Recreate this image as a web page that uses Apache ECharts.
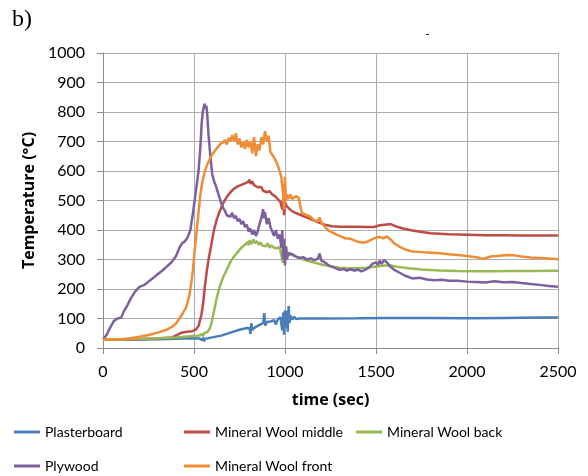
<!DOCTYPE html>
<html>
<head>
<meta charset="utf-8">
<script src="https://cdn.jsdelivr.net/npm/echarts@6/dist/echarts.min.js"></script>
<style>
  html, body { margin: 0; padding: 0; background: #fff; }
  #chart { width: 588px; height: 476px; }
</style>
</head>
<body>
<div id="chart"></div>
<script>
// Temperature histories [time (s), temperature (°C)] per measuring position
const seriesNames = ['Plasterboard', 'Mineral Wool middle', 'Mineral Wool back', 'Plywood', 'Mineral Wool front'];
const seriesColors = ['#4A7EBB', '#BE4B48', '#98B954', '#7D60A0', '#F08C36'];

const plasterboard = [[0,29],[100,29],[200,29],[300,30],[400,31],[480,33],[530,32],[545,27],[550,35],[555,23],[560,31],[600,36],[650,42],[700,52],[750,62],[790,68],[805,67],[810,48],[815,84],[820,62],[840,72],[860,78],[880,84],[886,118],[892,76],[900,88],[920,90],[940,94],[950,80],[960,97],[975,104],[985,60],[990,120],[995,45],[1000,128],[1005,70],[1010,125],[1015,55],[1020,142],[1025,85],[1030,110],[1040,96],[1050,106],[1060,98],[1080,100],[1200,100],[1400,101],[1560,102],[1565,108],[1570,101],[1800,102],[2000,101],[2200,102],[2400,103],[2500,103]];

const mineralWoolMiddle = [[0,29],[100,29],[200,30],[300,32],[380,36],[410,45],[430,52],[460,55],[490,57],[510,62],[525,75],[540,110],[550,150],[560,210],[570,260],[580,300],[595,350],[610,400],[625,435],[640,462],[660,490],[680,512],[700,528],[720,540],[740,548],[760,553],[780,558],[795,562],[805,570],[812,556],[820,565],[830,552],[840,548],[850,545],[860,540],[870,546],[880,533],[890,538],[900,528],[915,532],[930,520],[945,515],[960,505],[975,495],[985,470],[990,505],[995,450],[1000,495],[1010,480],[1030,468],[1050,460],[1070,455],[1090,450],[1110,445],[1130,440],[1160,432],[1190,424],[1220,418],[1260,413],[1300,411],[1350,411],[1400,411],[1450,410],[1490,410],[1520,416],[1550,418],[1580,420],[1610,412],[1650,405],[1700,398],[1750,393],[1800,389],[1900,386],[2000,384],[2100,382],[2200,382],[2300,381],[2500,381]];

const mineralWoolBack = [[0,29],[100,29],[200,31],[300,33],[400,36],[480,40],[530,42],[545,48],[550,40],[555,50],[565,46],[575,55],[585,65],[595,82],[605,110],[615,140],[625,170],[640,205],[660,240],[680,265],[700,292],[720,310],[740,325],[760,340],[780,350],[795,360],[800,348],[805,365],[815,352],[825,368],[835,355],[845,363],[855,350],[865,358],[875,347],[885,352],[895,345],[905,355],[915,340],[925,348],[940,340],[955,338],[970,343],[980,340],[985,300],[988,288],[992,340],[1000,330],[1005,345],[1012,318],[1020,322],[1040,315],[1060,310],[1080,305],[1100,300],[1130,295],[1160,290],[1200,283],[1250,277],[1300,272],[1350,270],[1400,270],[1450,272],[1500,276],[1550,280],[1580,280],[1620,275],[1680,270],[1750,266],[1850,263],[1950,261],[2050,260],[2150,260],[2250,261],[2350,261],[2500,262]];

const plywood = [[0,29],[20,45],[40,70],[60,92],[80,100],[100,103],[115,125],[130,140],[150,165],[175,190],[200,207],[225,213],[250,225],[275,237],[300,250],[325,262],[350,276],[375,290],[400,310],[420,340],[435,355],[450,362],[465,375],[480,400],[495,460],[510,530],[525,600],[535,680],[542,760],[548,800],[553,815],[558,828],[563,812],[568,822],[573,790],[580,720],[590,650],[600,590],[610,565],[620,550],[630,530],[640,510],[650,490],[660,475],[670,465],[680,450],[690,455],[700,445],[710,458],[720,440],[730,448],[740,430],[750,438],[760,420],[770,430],[780,410],[790,418],[800,395],[810,405],[820,385],[830,400],[840,380],[850,395],[860,420],[870,440],[880,470],[885,440],[890,460],[900,420],[910,440],[920,410],[930,405],[940,380],[950,400],[960,370],[970,385],[980,340],[985,400],[990,300],[995,370],[1000,280],[1005,345],[1010,300],[1020,322],[1040,318],[1060,310],[1080,305],[1100,308],[1120,300],[1140,304],[1160,298],[1180,302],[1190,320],[1200,296],[1220,290],[1240,280],[1260,275],[1280,270],[1300,265],[1320,268],[1340,262],[1360,267],[1380,262],[1400,266],[1420,260],[1440,265],[1460,272],[1480,285],[1500,290],[1510,282],[1520,296],[1530,285],[1545,298],[1560,290],[1580,275],[1600,265],[1630,255],[1660,245],[1700,236],[1740,238],[1780,232],[1820,230],[1860,231],[1900,228],[1950,228],[2000,225],[2050,224],[2100,222],[2150,226],[2200,223],[2250,224],[2300,220],[2350,217],[2400,214],[2450,210],[2500,208]];

const mineralWoolFront = [[0,29],[50,29],[100,30],[150,33],[200,38],[250,44],[300,52],[350,62],[380,72],[400,82],[420,100],[440,120],[455,135],[465,155],[475,180],[485,220],[495,270],[505,340],[515,400],[525,460],[535,520],[545,560],[560,600],[575,625],[590,645],[610,665],[630,680],[645,692],[660,697],[670,705],[680,690],[690,712],[700,700],[710,722],[720,700],[730,728],[740,690],[750,710],[760,680],[770,700],[780,675],[790,705],[800,680],[810,700],[820,660],[830,715],[840,650],[850,690],[860,670],[870,715],[880,690],[890,735],[900,700],[910,720],[920,665],[930,660],[945,640],[960,620],[970,600],[980,580],[990,520],[995,470],[1000,580],[1005,500],[1010,520],[1020,505],[1030,520],[1040,505],[1060,515],[1075,510],[1085,480],[1092,458],[1100,455],[1120,450],[1140,445],[1160,432],[1180,430],[1190,442],[1200,425],[1220,410],[1240,398],[1260,392],[1280,385],[1300,380],[1330,372],[1360,370],[1400,360],[1430,357],[1460,362],[1490,372],[1520,377],[1540,372],[1560,378],[1580,368],[1600,355],[1630,343],[1660,334],[1700,327],[1750,325],[1800,323],[1850,321],[1900,318],[1950,315],[2000,312],[2050,308],[2090,302],[2130,310],[2180,313],[2220,315],[2260,314],[2300,310],[2350,307],[2400,305],[2450,303],[2500,301]];

const seriesData = [plasterboard, mineralWoolMiddle, mineralWoolBack, plywood, mineralWoolFront];

// legend slot (left, top) for each series, two rows of up to three entries
const legendSlots = [[14, 425], [184, 425], [356, 425], [14, 459], [184, 459]];

const chart = echarts.init(document.getElementById('chart'), null, { renderer: 'canvas' });

const baseFont = 'Lato, "Open Sans", sans-serif';
const titleFont = '"Open Sans", Lato, sans-serif';

chart.setOption({
  animation: false,
  backgroundColor: '#fff',
  color: seriesColors,
  graphic: [
    {
      type: 'text', left: 12, top: 8,
      style: { text: 'b)', font: '24px "Liberation Serif", serif', fill: '#000' }
    },
    {
      type: 'rect', left: 426, top: 34,
      shape: { width: 3, height: 1 },
      style: { fill: '#222' }
    }
  ],
  grid: { left: 103, right: 30, top: 53, bottom: 128, containLabel: false },
  legend: seriesNames.map((name, i) => ({
    left: legendSlots[i][0],
    top: legendSlots[i][1],
    data: [name],
    icon: 'rect',
    itemWidth: 26,
    itemHeight: 3,
    padding: 0,
    selectedMode: false,
    textStyle: { fontFamily: baseFont, fontSize: 14, color: '#000' }
  })),
  xAxis: {
    type: 'value', min: 0, max: 2500, interval: 500,
    name: 'time (sec)', nameLocation: 'middle', nameGap: 44,
    nameTextStyle: { fontFamily: titleFont, fontSize: 16, fontWeight: 'bold', color: '#000' },
    axisLine: { show: true, lineStyle: { color: '#8A8A8A', width: 1 } },
    axisTick: { show: true, length: 6, lineStyle: { color: '#8A8A8A' } },
    axisLabel: { margin: 16, fontFamily: baseFont, fontSize: 16, color: '#000', formatter: v => String(v) },
    splitLine: { show: true, lineStyle: { color: '#ADADAD', width: 1 } }
  },
  yAxis: {
    type: 'value', min: 0, max: 1000, interval: 100,
    name: 'Temperature (°C)', nameLocation: 'middle', nameGap: 52,
    nameTextStyle: { fontFamily: titleFont, fontSize: 16, fontWeight: 'bold', color: '#000' },
    axisLine: { show: true, lineStyle: { color: '#8A8A8A', width: 1 } },
    axisTick: { show: true, length: 6, lineStyle: { color: '#8A8A8A' } },
    axisLabel: { margin: 18, fontFamily: baseFont, fontSize: 16, color: '#000', formatter: v => String(v) },
    splitLine: { show: true, lineStyle: { color: '#ADADAD', width: 1 } }
  },
  series: seriesNames.map((name, i) => ({
    name: name,
    type: 'line',
    data: seriesData[i],
    showSymbol: false,
    symbol: 'none',
    lineStyle: { width: 2.5, color: seriesColors[i] },
    itemStyle: { color: seriesColors[i] },
    z: 2 + i
  }))
});
</script>
</body>
</html>
